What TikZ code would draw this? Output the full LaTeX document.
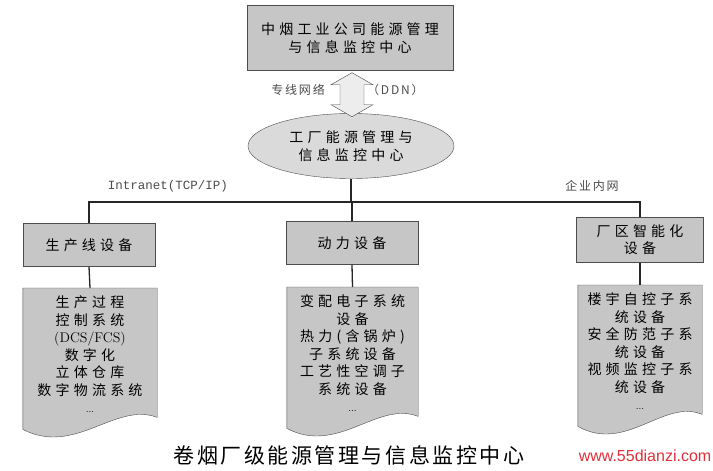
\documentclass[tikz,border=0pt]{standalone}
\usepackage{fontspec}
\usepackage{tikz}
\usetikzlibrary{positioning,shapes.geometric,calc,backgrounds}
\newfontfamily\cjk[LetterSpace=30]{Noto Sans CJK SC}
\newfontfamily\cjklabel[LetterSpace=15]{Noto Sans CJK SC}
\newfontfamily\cjktitle[LetterSpace=12]{Noto Sans CJK SC}
\newfontfamily\netfont{Liberation Mono}
\newfontfamily\webfont{Liberation Sans}
\definecolor{boxgray}{HTML}{C6C6C6}
\definecolor{ovalgray}{HTML}{DADADA}
\definecolor{arrowgray}{HTML}{EDEDED}
\definecolor{markred}{HTML}{E0303A}

\tikzset{
  unitbox/.style={draw=black!70,fill=boxgray,minimum width=132,minimum height=43,
    align=center,font=\cjk\fontsize{14}{17}\selectfont},
  hqbox/.style={unitbox,minimum width=206,minimum height=65,font=\cjk\fontsize{14}{18}\selectfont},
  plantoval/.style={ellipse,draw=black!70,fill=ovalgray,minimum width=206,minimum height=65,
    align=center,font=\cjk\fontsize{14}{18}\selectfont},
  doctext/.style={anchor=north,minimum width=134,minimum height=132,align=center,
    font=\cjk\fontsize{14}{17.5}\selectfont},
  docline/.style={draw=black!70,fill=boxgray},
  busline/.style={draw=black!85,line width=1.3pt},
  linkarrow/.style={draw=black!70,fill=arrowgray},
  netlabel/.style={text=black!70,font=\cjklabel\fontsize{12}{12}\selectfont}
}

% wavy "document" outline behind a text node
\newcommand{\docframe}[1]{%
  \begin{scope}[on background layer]
    \draw[docline] (#1.north west) -- (#1.north east) -- ($(#1.south east)+(0,-3)$)
      .. controls ($($(#1.south west)!0.69!(#1.south east)$)+(0,-19)$)
      and ($($(#1.south west)!0.39!(#1.south east)$)+(0,36)$) .. ($(#1.south west)+(0,9)$) -- cycle;
  \end{scope}}

\newcommand{\moredots}{{\rmfamily\fontsize{10}{10}\selectfont ...}}

\begin{document}
\begin{tikzpicture}[x=1pt,y=-1pt,every node/.style={inner sep=0pt}]
  \begin{scope}[on background layer]
    \fill[white] (0,0) rectangle (713,471);
  \end{scope}
  \useasboundingbox (0,0) rectangle (713,471);

  \node[hqbox] (hq) at (350,38) {中烟工业公司能源管理\\与信息监控中心};
  \node[plantoval] (plant) at (351,146) {工厂能源管理与\\信息监控中心};

  % dedicated line between the two centres
  \draw[linkarrow] ($(hq.south)+(2,2)$) -- ++(21,12) -- ++(-9,0) -- ++(0,20) -- ++(9,0)
    -- ++(-21,12) -- ++(-21,-12) -- ++(9,0) -- ++(0,-20) -- ++(-9,0) -- cycle;
  \node[netlabel,anchor=east] (ddnL) at (325,90) {专线网络};
  \node[netlabel,anchor=west] (ddnR) at (367,90) {（DDN）};

  \node[unitbox] (line) at (89,245) {生产线设备};
  \node[unitbox] (power) at (352,243) {动力设备};
  \node[unitbox,minimum width=127,minimum height=45] (park) at (640,240) {厂区智能化\\设备};

  % plant network
  \coordinate (bus) at (351,202);
  \draw[busline] (plant.south) -- (bus);
  \draw[busline] (line.north) |- (bus) -| (park.north);
  \draw[busline] (power.north) -- (power.north |- bus);
  \node[text=black!70,font=\netfont\fontsize{12.5}{12.5}\selectfont] (intranet) at (168,186) {Intranet(TCP/IP)};
  \node[netlabel] (lan) at (592,186) {企业内网};

  \node[doctext] (lineDoc) at (90,288)
    {生产过程\\控制系统\\{\rmfamily\fontsize{14}{14}\selectfont (DCS/FCS)}\\数字化\\立体仓库\\数字物流系统\\\moredots};
  \node[doctext,minimum width=131] (powerDoc) at (352.5,287)
    {变配电子系统\\设备\\热力(含锅炉)\\子系统设备\\工艺性空调子\\系统设备\\\moredots};
  \node[doctext,minimum width=124] (parkDoc) at (640,285)
    {楼宇自控子系\\统设备\\安全防范子系\\统设备\\视频监控子系\\统设备\\\moredots};
  \docframe{lineDoc}
  \docframe{powerDoc}
  \docframe{parkDoc}
  \draw[busline] (line.south) -- (lineDoc.north);
  \draw[busline] (power.south) -- (powerDoc.north);
  \draw[busline] (park.south) -- (parkDoc.north);

  \node[font=\cjktitle\fontsize{21}{21}\selectfont] (title) at (349,455) {卷烟厂级能源管理与信息监控中心};
  \node[text=markred,font=\webfont\fontsize{16}{16}\selectfont] (mark) at (645,456) {www.55dianzi.com};
\end{tikzpicture}
\end{document}
